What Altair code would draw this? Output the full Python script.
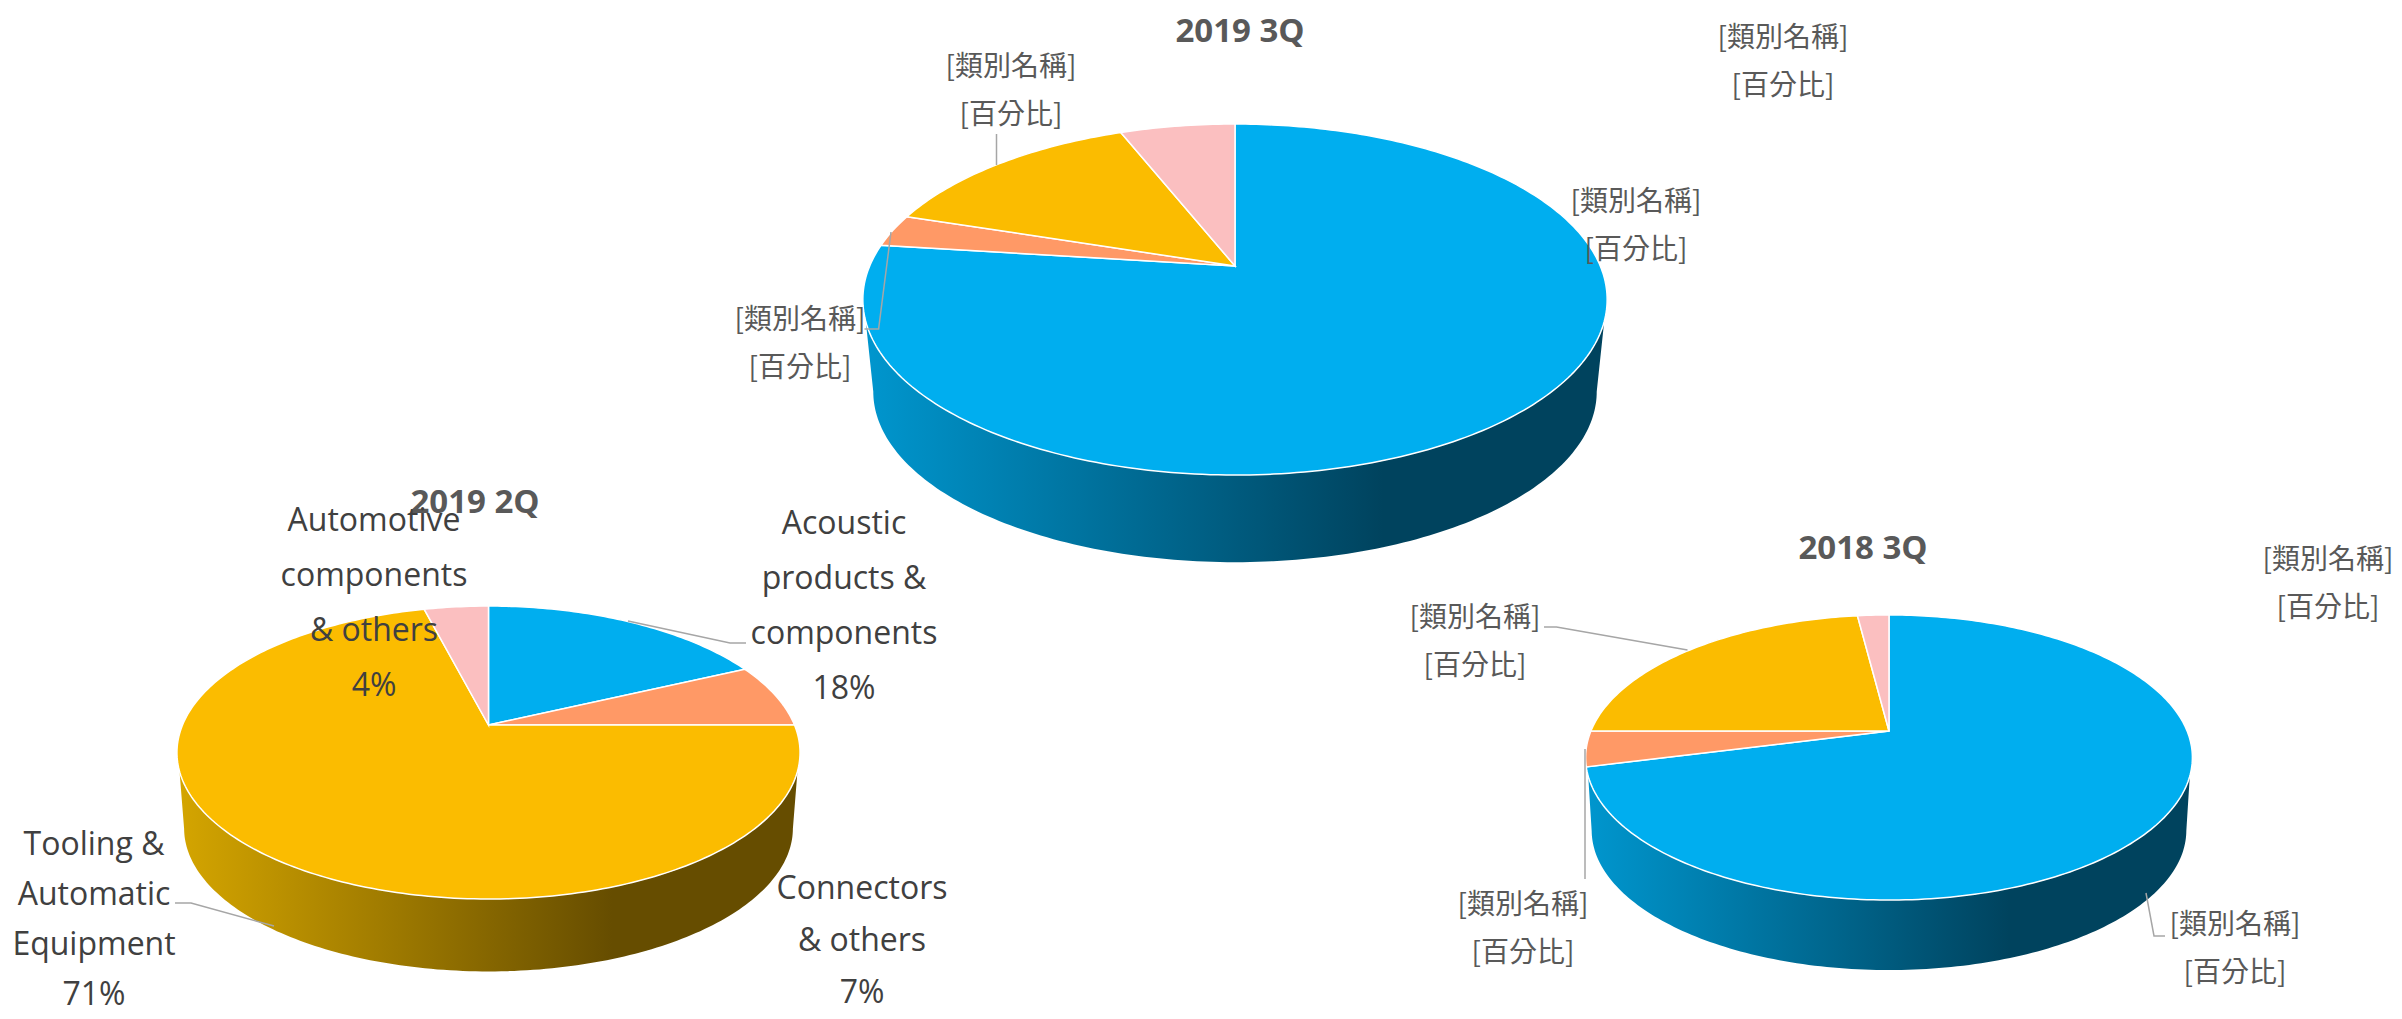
import math
import altair as alt

CJK = "Noto Sans CJK TC"
LATIN = "Open Sans"

# slice shares clockwise from 12 o'clock, in percent
SHARES_2019_3Q = [77, 3, 14, 6]
SHARES_2019_2Q = [18, 7, 71, 4]
SHARES_2018_3Q = [71, 4, 23, 2]
SLICE_COLORS = ["#00AEEF", "#FF9966", "#FBBC00", "#FBBFC0"]
BLUE_WALL = ["#0096CE", "#00435E"]
GOLD_WALL = ["#D4A500", "#664D00"]
GREY = "#595959"
DARK = "#404040"
LEADER = "#A6A6A6"

# perspective pie geometry: centre x, apex y, half width, half height, perspective, depth, far scale
PIES = [
    dict(shares=SHARES_2019_3Q, wall=BLUE_WALL, cx=1235, ay=266, A=365.3, B=169.1, k=0.191, dy=93, s=0.972),
    dict(shares=SHARES_2019_2Q, wall=GOLD_WALL, cx=488.5, ay=725, A=306.0, B=141.3, k=0.188, dy=76.4, s=0.977),
    dict(shares=SHARES_2018_3Q, wall=BLUE_WALL, cx=1889, ay=731, A=298.1, B=137.6, k=0.186, dy=73.4, s=0.98),
]

TITLES = [("2019 3Q", 1240, 32), ("2019 2Q", 475, 503), ("2018 3Q", 1863, 549)]
CJK_LABEL = "[類別名稱]\n[百分比]"
CJK_LABELS = [
    (1783, 39), (1011, 68), (1636, 203), (800, 321),
    (2328, 561), (1475, 619), (1523, 906), (2235, 926),
]
TEXT_LABELS = [
    ("Acoustic\nproducts &\ncomponents\n18%", 844, 524, 55),
    ("Automotive\ncomponents\n& others\n4%", 374, 521, 55),
    ("Tooling &\nAutomatic\nEquipment\n71%", 94, 845, 50),
    ("Connectors\n& others\n7%", 862, 889, 52),
]
LEADERS = [
    [(996.5, 134), (996.5, 165)],
    [(891, 232), (878.6, 329), (864.5, 329)],
    [(1544, 627), (1556.5, 627), (1687.5, 650)],
    [(1585, 749), (1585, 879)],
    [(2146, 893), (2154, 936), (2165, 936)],
    [(628, 621), (730, 643), (746, 643)],
    [(175, 903), (191, 903), (274, 926)],
]

W, H = 2386, 1003
X = alt.Scale(domain=[8, 8 + W], nice=False, zero=False)
Y = alt.Scale(domain=[8 + H, 8], nice=False, zero=False)
PROJ = dict(type="identity", scale=1, translate=[-8, -8])


def pt(p, deg, far=False):
    t = math.radians(deg)
    u, v = math.sin(t), math.cos(t)
    w = 1 + p["k"] * v
    s = p["s"] if far else 1.0
    d = p["dy"] if far else 0.0
    return [p["cx"] + s * p["A"] * u / w, p["ay"] + d - s * p["B"] * v / w]


def feature(ring, color="x"):
    return {"type": "Feature", "properties": {"c": color},
            "geometry": {"type": "Polygon", "coordinates": [ring + [ring[0]]]}}


layers = []
for p in PIES:
    wall = [pt(p, a, True) for a in range(101, 260)] + [pt(p, a) for a in range(252, 107, -1)]
    layers.append(
        alt.Chart(alt.Data(values=[feature(wall)]))
        .mark_geoshape(
            strokeWidth=0,
            fill=alt.Gradient(gradient="linear", x1=0, x2=1, y1=0, y2=0, stops=[
                alt.GradientStop(color=p["wall"][0], offset=0),
                alt.GradientStop(color=p["wall"][1], offset=0.7),
                alt.GradientStop(color=p["wall"][1], offset=1),
            ]),
        )
        .project(**PROJ)
    )
    feats, start = [], 0.0
    for share, color in zip(p["shares"], SLICE_COLORS):
        end = start + share * 3.6
        n = max(2, int(end - start))
        ring = [[p["cx"], p["ay"]]] + [pt(p, start + (end - start) * i / n) for i in range(n + 1)]
        feats.append(feature(ring, color))
        start = end
    layers.append(
        alt.Chart(alt.Data(values=feats))
        .mark_geoshape(stroke="#FFFFFF", strokeWidth=1.5)
        .encode(color=alt.Color("properties.c:N", scale=None, legend=None))
        .project(**PROJ)
    )

for i, line in enumerate(LEADERS):
    rows = [{"px": a, "py": b, "o": j} for j, (a, b) in enumerate(line)]
    layers.append(
        alt.Chart(alt.Data(values=rows))
        .mark_line(color=LEADER, strokeWidth=1.5)
        .encode(
            x=alt.X("px:Q", scale=X, axis=None),
            y=alt.Y("py:Q", scale=Y, axis=None),
            order="o:Q",
        )
    )


def text_layer(txt, x, y, **kw):
    return (
        alt.Chart(alt.Data(values=[{"t": txt, "px": x, "py": y}]))
        .mark_text(align="center", baseline="middle", lineBreak="\n", **kw)
        .encode(
            x=alt.X("px:Q", scale=X, axis=None),
            y=alt.Y("py:Q", scale=Y, axis=None),
            text="t:N",
        )
    )


for t, x, y in TITLES:
    layers.append(text_layer(t, x, y, font=LATIN, fontSize=33, fontWeight="bold", color=GREY))
for x, y in CJK_LABELS:
    layers.append(text_layer(CJK_LABEL, x, y, font=CJK, fontSize=28, lineHeight=48, color=GREY))
for t, x, y, lh in TEXT_LABELS:
    layers.append(text_layer(t, x, y, font=LATIN, fontSize=32, lineHeight=lh, color=DARK))

chart = (
    alt.layer(*layers)
    .properties(width=W, height=H, padding=0, autosize=alt.AutoSizeParams(type="none"))
    .configure_view(stroke=None)
)
chart.save("out.html", embed_options={"renderer": "svg", "actions": False})
